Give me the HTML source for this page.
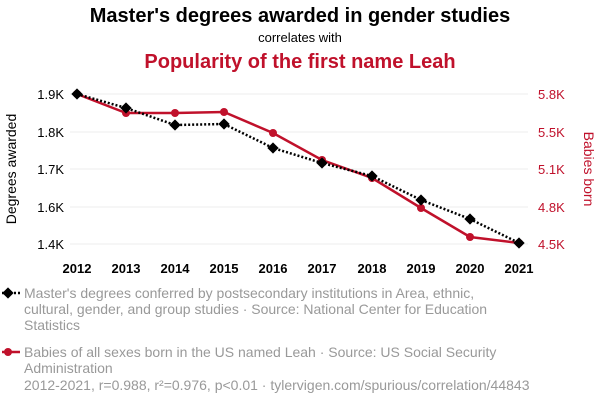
<!DOCTYPE html>
<html><head><style>
body{margin:0;background:#fff;width:600px;height:408px;overflow:hidden;font-family:"Liberation Sans",sans-serif}
</style></head><body>
<svg width="600" height="408" xmlns="http://www.w3.org/2000/svg" font-family="Liberation Sans, sans-serif">
<text x="300" y="22" text-anchor="middle" font-size="20" font-weight="bold" fill="#000">Master's degrees awarded in gender studies</text>
<text x="300" y="42" text-anchor="middle" font-size="13" fill="#000">correlates with</text>
<text x="300" y="68" text-anchor="middle" font-size="20" font-weight="bold" fill="#c0112b">Popularity of the first name Leah</text>
<g stroke="#eee" stroke-width="1">
<line x1="70" x2="528" y1="94" y2="94"/><line x1="70" x2="528" y1="132" y2="132"/><line x1="70" x2="528" y1="169" y2="169"/><line x1="70" x2="528" y1="207" y2="207"/><line x1="70" x2="528" y1="244" y2="244"/>
</g>
<g font-size="13" fill="#000" text-anchor="end">
<text x="64" y="99">1.9K</text><text x="64" y="137">1.8K</text><text x="64" y="174">1.7K</text><text x="64" y="212">1.6K</text><text x="64" y="249">1.4K</text>
</g>
<g font-size="13" fill="#c0112b">
<text x="538" y="99">5.8K</text><text x="538" y="137">5.5K</text><text x="538" y="174">5.1K</text><text x="538" y="212">4.8K</text><text x="538" y="249">4.5K</text>
</g>
<text transform="translate(16,169) rotate(-90)" text-anchor="middle" font-size="14" fill="#000">Degrees awarded</text>
<text transform="translate(584,169) rotate(90)" text-anchor="middle" font-size="14" fill="#c0112b">Babies born</text>
<g font-size="13" font-weight="bold" fill="#000" text-anchor="middle">
<text x="77" y="273">2012</text><text x="126" y="273">2013</text><text x="175" y="273">2014</text><text x="224" y="273">2015</text><text x="273" y="273">2016</text><text x="322" y="273">2017</text><text x="372" y="273">2018</text><text x="421" y="273">2019</text><text x="470" y="273">2020</text><text x="519" y="273">2021</text>
</g>
<polyline fill="none" stroke="#c0112b" stroke-width="2.5" points="77,94 126,113 175,113 224,112 273,133 322,160 372,178 421,208 470,237 519,243"/>
<g fill="#c0112b"><circle cx="77" cy="94" r="4"/><circle cx="126" cy="113" r="4"/><circle cx="175" cy="113" r="4"/><circle cx="224" cy="112" r="4"/><circle cx="273" cy="133" r="4"/><circle cx="322" cy="160" r="4"/><circle cx="372" cy="178" r="4"/><circle cx="421" cy="208" r="4"/><circle cx="470" cy="237" r="4"/><circle cx="519" cy="243" r="4"/></g>
<polyline fill="none" stroke="#000" stroke-width="2.5" stroke-dasharray="2,2" points="77,94 126,108 175,125 224,124 273,148 322,163 372,176 421,200 470,219 519,243"/>
<g fill="#000">
<rect x="-4" y="-4" width="8" height="8" transform="translate(77,94) rotate(45)"/>
<rect x="-4" y="-4" width="8" height="8" transform="translate(126,108) rotate(45)"/>
<rect x="-4" y="-4" width="8" height="8" transform="translate(175,125) rotate(45)"/>
<rect x="-4" y="-4" width="8" height="8" transform="translate(224,124) rotate(45)"/>
<rect x="-4" y="-4" width="8" height="8" transform="translate(273,148) rotate(45)"/>
<rect x="-4" y="-4" width="8" height="8" transform="translate(322,163) rotate(45)"/>
<rect x="-4" y="-4" width="8" height="8" transform="translate(372,176) rotate(45)"/>
<rect x="-4" y="-4" width="8" height="8" transform="translate(421,200) rotate(45)"/>
<rect x="-4" y="-4" width="8" height="8" transform="translate(470,219) rotate(45)"/>
<rect x="-4" y="-4" width="8" height="8" transform="translate(519,243) rotate(45)"/>
</g>
<line x1="2" x2="20" y1="293" y2="293" stroke="#000" stroke-width="2.5" stroke-dasharray="2,2"/>
<rect x="-4" y="-4" width="8" height="8" transform="translate(8,293) rotate(45)" fill="#000"/>
<g font-size="14" fill="#999">
<text x="24" y="298">Master's degrees conferred by postsecondary institutions in Area, ethnic,</text>
<text x="24" y="314">cultural, gender, and group studies · Source: National Center for Education</text>
<text x="24" y="330">Statistics</text>
<text x="24" y="357">Babies of all sexes born in the US named Leah · Source: US Social Security</text>
<text x="24" y="373">Administration</text>
<text x="24" y="390">2012-2021, r=0.988, r²=0.976, p&lt;0.01 · tylervigen.com/spurious/correlation/44843</text>
</g>
<line x1="2" x2="20" y1="352" y2="352" stroke="#c0112b" stroke-width="2.5"/>
<circle cx="8" cy="352" r="4" fill="#c0112b"/>
</svg>
</body></html>
